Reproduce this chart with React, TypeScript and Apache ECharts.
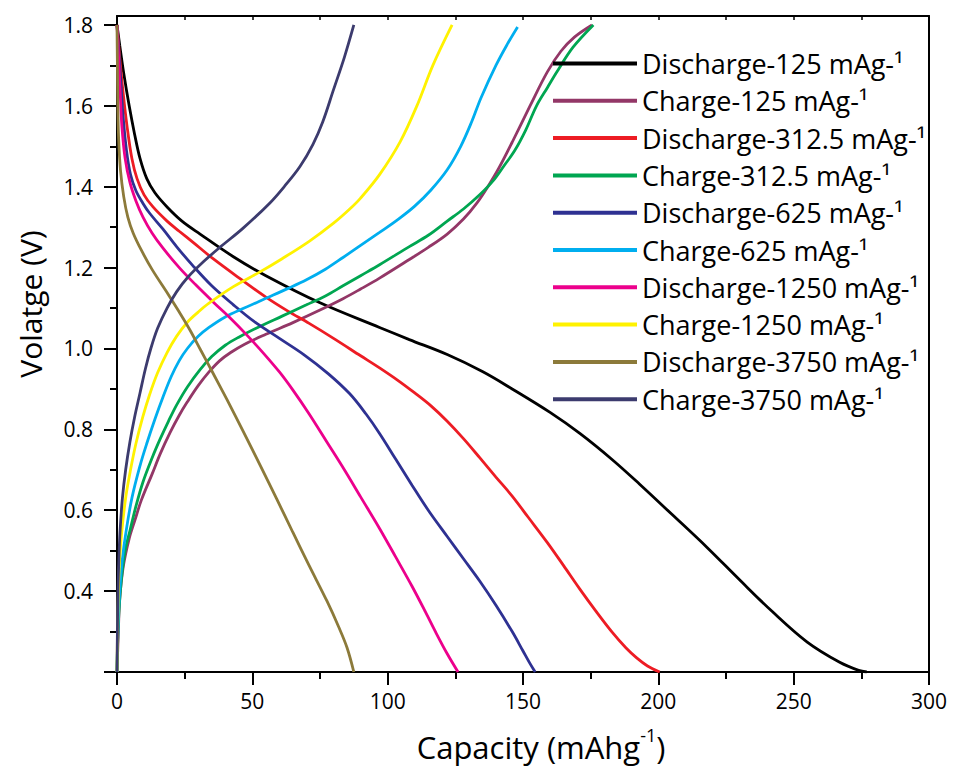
import React, { useEffect, useRef } from "react";
import * as echarts from "echarts";

// Galvanostatic discharge / charge profiles: [capacity (mAh/g), voltage (V)]
const discharge125 = [[0,1.8],[1,1.75],[2.5,1.68],[4.5,1.6],[6.5,1.53],[8.5,1.47],[11,1.42],[14,1.385],[18.5,1.35],[24,1.315],[30.7,1.283],[43,1.227],[55,1.18],[75,1.113],[97,1.052],[108,1.022],[122,0.985],[135,0.943],[146,0.9],[160,0.842],[171,0.79],[183,0.725],[193,0.665],[205,0.59],[218,0.508],[230,0.428],[242,0.35],[255,0.274],[267,0.224],[274,0.204],[277,0.2]];
const charge125 = [[0,0.2],[0.5,0.3],[1,0.38],[2.3,0.46],[4.5,0.53],[6.6,0.575],[9,0.625],[13,0.69],[16,0.74],[19.6,0.792],[23,0.835],[26,0.868],[30,0.908],[34,0.942],[38,0.97],[42,0.99],[47,1.01],[55,1.035],[65,1.064],[75,1.095],[83.5,1.123],[90,1.147],[97,1.174],[108,1.22],[115,1.25],[122,1.283],[128,1.32],[133,1.36],[137,1.4],[141,1.445],[146,1.51],[152.6,1.6],[159,1.684],[164,1.735],[169,1.77],[175.5,1.8]];
const discharge312 = [[0,1.8],[1,1.72],[2.3,1.63],[3.7,1.55],[5.5,1.47],[7.4,1.42],[10,1.38],[13.3,1.35],[18.5,1.315],[23,1.29],[28,1.263],[35.5,1.222],[46,1.17],[55,1.127],[63,1.093],[71,1.062],[80,1.025],[90,0.982],[97,0.952],[104,0.92],[110,0.89],[116,0.858],[122,0.82],[128,0.777],[134,0.73],[140,0.682],[146,0.635],[152,0.582],[159,0.52],[165,0.463],[171,0.405],[177,0.35],[183,0.298],[188,0.26],[192,0.235],[196,0.215],[200.5,0.2]];
const charge312 = [[0,0.2],[0.5,0.32],[1.5,0.42],[3,0.5],[4.8,0.55],[7,0.61],[9.6,0.67],[13,0.73],[16,0.777],[19,0.82],[22,0.86],[26,0.905],[30.7,0.948],[35,0.98],[40,1.008],[45,1.028],[52,1.052],[61,1.08],[70,1.108],[77,1.13],[83.5,1.155],[90,1.18],[97,1.207],[108,1.252],[115,1.28],[122,1.315],[128,1.345],[134,1.38],[139,1.415],[143,1.452],[147,1.49],[151,1.54],[155,1.6],[159,1.645],[162.6,1.685],[168.5,1.745],[176,1.8]];
const discharge625 = [[0,1.8],[0.8,1.72],[1.5,1.65],[2.3,1.57],[3.5,1.49],[5,1.43],[7,1.39],[9.5,1.36],[12,1.335],[17,1.295],[22,1.252],[28,1.205],[35,1.155],[43,1.108],[51,1.065],[60,1.025],[69,0.985],[78,0.938],[86,0.888],[92,0.838],[97,0.79],[103,0.726],[109,0.662],[115,0.6],[122,0.535],[128,0.48],[134,0.425],[140,0.365],[146,0.3],[150,0.252],[152.5,0.222],[154.5,0.2]];
const charge625 = [[0,0.2],[0.4,0.32],[1,0.4],[2,0.48],[3.3,0.545],[5.5,0.63],[8.5,0.71],[11,0.765],[14,0.825],[17,0.88],[20,0.93],[23,0.97],[26,1.0],[30,1.03],[34,1.052],[40,1.078],[47,1.1],[55,1.124],[63,1.148],[70,1.17],[77,1.196],[83.5,1.225],[90,1.255],[97,1.287],[104,1.32],[110,1.352],[116,1.392],[122,1.442],[127,1.5],[131,1.56],[134.5,1.62],[140,1.7],[144,1.75],[148,1.795]];
const discharge1250 = [[0,1.8],[0.6,1.72],[1.2,1.63],[1.8,1.55],[3,1.47],[4.8,1.41],[7,1.365],[9.6,1.325],[13,1.285],[17,1.248],[23,1.2],[29,1.158],[36,1.112],[42,1.074],[48,1.033],[53.5,0.993],[60,0.942],[65,0.897],[71,0.838],[77.6,0.768],[84,0.7],[90,0.633],[97,0.555],[103,0.484],[109,0.412],[114,0.348],[118,0.295],[122,0.245],[126,0.2]];
const charge1250 = [[0,0.2],[0.2,0.3],[0.5,0.4],[1,0.48],[1.8,0.55],[3.3,0.635],[5,0.7],[7,0.765],[9.5,0.83],[12,0.885],[15,0.94],[18.5,0.99],[22,1.03],[26,1.065],[30,1.09],[34,1.112],[43,1.153],[53,1.19],[61,1.222],[71,1.265],[80,1.31],[86,1.345],[90,1.372],[97,1.43],[104.6,1.511],[110.8,1.6],[116.7,1.7],[123.8,1.8]];
const discharge3750 = [[0,1.8],[0.15,1.7],[0.3,1.6],[0.6,1.52],[1.3,1.44],[2.5,1.375],[4,1.325],[6,1.285],[9,1.243],[13,1.195],[19,1.133],[23,1.09],[27,1.045],[31,0.995],[35,0.945],[40.6,0.874],[47,0.79],[53,0.71],[59,0.628],[65,0.545],[71,0.463],[77.6,0.375],[82,0.31],[85,0.26],[87.5,0.2]];
const charge3750 = [[0,0.2],[0.15,0.3],[0.35,0.4],[0.7,0.48],[1.1,0.545],[2,0.63],[3.2,0.7],[4.8,0.77],[6.5,0.83],[8.5,0.89],[10.5,0.95],[12.5,1.0],[15,1.05],[18.5,1.1],[22,1.14],[26,1.175],[32,1.215],[38,1.25],[46.5,1.297],[56.5,1.36],[62,1.402],[67.6,1.45],[72.4,1.505],[76,1.56],[80,1.64],[84,1.72],[87.5,1.8]];

const seriesNames = [
  "Discharge-125 mAg-¹",
  "Charge-125 mAg-¹",
  "Discharge-312.5 mAg-¹",
  "Charge-312.5 mAg-¹",
  "Discharge-625 mAg-¹",
  "Charge-625 mAg-¹",
  "Discharge-1250 mAg-¹",
  "Charge-1250 mAg-¹",
  "Discharge-3750 mAg-¹",
  "Charge-3750 mAg-¹",
];
const seriesData = [
  discharge125, charge125, discharge312, charge312, discharge625,
  charge625, discharge1250, charge1250, discharge3750, charge3750,
];
const seriesColors = [
  "#000000", "#933767", "#ED1C24", "#00A651", "#2E3192",
  "#00AEEF", "#EC008C", "#FFF200", "#8C7A3A", "#3C3B6E",
];

const yMajorTicks = [0.2, 0.4, 0.6, 0.8, 1.0, 1.2, 1.4, 1.6, 1.8];
const yMinorTicks = [0.3, 0.5, 0.7, 0.9, 1.1, 1.3, 1.5, 1.7];
const yLabels = [0.4, 0.6, 0.8, 1.0, 1.2, 1.4, 1.6, 1.8];

const FONT = "'Open Sans', 'Noto Sans', sans-serif";
const black = "#000";

export default function App() {
  const ref = useRef<HTMLDivElement>(null);

  useEffect(() => {
    const chart = echarts.init(ref.current!, null, { renderer: "svg" });
    const yRange = { min: 0.2, max: 1.8222 };
    chart.setOption({
      animation: false,
      backgroundColor: "#fff",
      grid: { left: 117, right: 24, top: 16, bottom: 94 },
      legend: {
        orient: "vertical",
        left: 548,
        top: 45,
        icon: "rect",
        itemWidth: 84,
        itemHeight: 4,
        itemGap: 10.3,
        data: seriesNames,
        textStyle: { fontFamily: FONT, fontSize: 27, color: black, lineHeight: 27 },
      },
      xAxis: [
        {
          type: "value",
          min: 0,
          max: 300,
          interval: 50,
          position: "bottom",
          axisLine: { lineStyle: { color: black, width: 2 } },
          axisTick: { length: 13, lineStyle: { color: black, width: 2 } },
          minorTick: { show: true, splitNumber: 2, length: 7, lineStyle: { color: black, width: 2 } },
          splitLine: { show: false },
          minorSplitLine: { show: false },
          axisLabel: { fontFamily: FONT, fontSize: 21, color: black, margin: 18 },
          name: "{a|Capacity (mAhg}{s|-1}{a|)}",
          nameLocation: "middle",
          nameGap: 50,
          nameTextStyle: {
            padding: [0, 0, 0, 36],
            rich: {
              a: { fontFamily: FONT, fontSize: 31, color: black, lineHeight: 40, verticalAlign: "bottom" },
              s: { fontFamily: FONT, fontSize: 18, color: black, lineHeight: 40, verticalAlign: "top", padding: [4, 0, 0, 0] },
            },
          },
        },
        {
          type: "value",
          min: 0,
          max: 300,
          interval: 25,
          position: "top",
          axisLine: { lineStyle: { color: black, width: 2 } },
          axisTick: { inside: true, length: 4, lineStyle: { color: black, width: 1.5 } },
          axisLabel: { show: false },
          splitLine: { show: false },
        },
      ],
      yAxis: [
        {
          type: "value",
          ...yRange,
          position: "left",
          axisLine: { lineStyle: { color: black, width: 2 } },
          axisTick: { customValues: yMajorTicks, length: 13, lineStyle: { color: black, width: 2 } },
          axisLabel: {
            customValues: yLabels,
            formatter: (v: number) => v.toFixed(1),
            fontFamily: FONT,
            fontSize: 21,
            color: black,
            margin: 24,
          },
          splitLine: { show: false },
          name: "Volatge (V)",
          nameLocation: "middle",
          nameGap: 72,
          nameTextStyle: { fontFamily: FONT, fontSize: 30, color: black, padding: [0, 0, 0, 80] },
        },
        {
          type: "value",
          ...yRange,
          position: "left",
          axisLine: { show: false },
          axisTick: { customValues: yMinorTicks, length: 7, lineStyle: { color: black, width: 2 } },
          axisLabel: { show: false },
          splitLine: { show: false },
        },
        {
          type: "value",
          ...yRange,
          position: "right",
          axisLine: { show: true, lineStyle: { color: black, width: 2 } },
          axisTick: { show: false },
          axisLabel: { show: false },
          splitLine: { show: false },
        },
      ],
      series: seriesNames.map((name, i) => ({
        name,
        type: "line",
        xAxisIndex: 0,
        yAxisIndex: 0,
        data: seriesData[i],
        showSymbol: false,
        symbol: "none",
        smooth: 0.35,
        color: seriesColors[i],
        lineStyle: { color: seriesColors[i], width: 2.8 },
      })),
    });
    return () => chart.dispose();
  }, []);

  return (
    <div
      ref={ref}
      style={{ position: "fixed", left: 0, top: 0, width: 953, height: 767 }}
    />
  );
}
